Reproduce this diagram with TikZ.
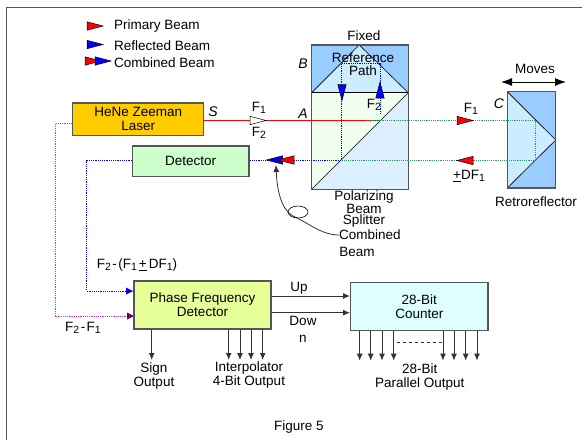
\documentclass[tikz,border=0pt]{standalone}
\usepackage{fontspec}
\setmainfont{Liberation Sans}
\usepackage{xcolor}
\usetikzlibrary{arrows.meta,shapes.geometric}
\definecolor{laserfill}{HTML}{FFCC00}
\definecolor{detfill}{HTML}{CCFFCC}
\definecolor{pfdfill}{HTML}{E6FF99}
\definecolor{countfill}{HTML}{DDFFFF}
\definecolor{prismblue}{HTML}{99CCFF}
\definecolor{prismpale}{HTML}{CCECFF}
\definecolor{cubegreen}{HTML}{F0FFF0}
\definecolor{cubeblue}{HTML}{DDF0FF}
\definecolor{edgegray}{HTML}{555555}
\definecolor{greenbeam}{HTML}{339966}
\definecolor{magentabeam}{HTML}{CC33CC}
\newcommand{\fsub}[2]{#1\raisebox{-2.5pt}{\fontsize{10.5}{11}\selectfont #2}}
\newcommand{\tightminus}{\hspace{1.5pt}-\hspace{1.5pt}}
\newcommand{\beamtip}[3]{%
  \draw[tipline, fill=#1, shift={(#2)}, rotate=#3]
    (-8,-4.2) -- (8,0) -- (-8,4.2) -- cycle;
}
\tikzset{
  >={Latex[length=7pt,width=6pt]},
  box/.style={draw=edgegray, line width=1.2pt, inner sep=0pt, align=center,
    font=\fontsize{13.5}{14}\selectfont},
  tag/.style={inner sep=0pt, align=center, font=\fontsize{13.5}{14}\selectfont},
  tight/.style={inner sep=0pt, align=center, font=\fontsize{13.5}{11}\selectfont},
  letter/.style={inner sep=0pt, font=\fontsize{14}{14}\selectfont\itshape},
  beam/.style={line width=0.8pt, dash pattern=on 1.2pt off 1pt},
  tipline/.style={draw=black, line width=0.5pt},
  glass/.style={draw=edgegray, line width=1.2pt},
  facet/.style={draw=black, line width=0.6pt},
  signal/.style={->, draw=black!80, line width=1pt},
}
\begin{document}
\begin{tikzpicture}[x=1pt, y=-1pt]
  \useasboundingbox (0,0) rectangle (582,440);
  \draw[edgegray, line width=1.6pt] (6.5,440) -- (6.5,7.5) -- (582,7.5);

  % optics
  \fill[cubegreen] (311.7,92.7) rectangle (408.3,189.3);
  \fill[cubeblue] (311.7,189.3) -- (408.3,92.7) -- (408.3,189.3) -- cycle;
  \fill[prismblue] (311.7,45) rectangle (408.3,92.7);
  \fill[prismpale] (311.7,92.7) -- (359.3,45) -- (408.3,92.7) -- cycle;
  \draw[facet] (311.7,92.7) -- (359.3,45) -- (408.3,92.7);
  \draw[facet] (311.7,189.3) -- (408.3,92.7);
  \draw[glass] (311.7,45) rectangle (408.3,189.3);
  \draw[facet] (311.7,92.7) -- (408.3,92.7);
  \fill[prismblue] (507.3,91.7) rectangle (555.7,188);
  \fill[prismpale] (507.3,91.7) -- (555.7,140) -- (507.3,188) -- cycle;
  \draw[facet] (507.3,91.7) -- (555.7,140) -- (507.3,188);
  \draw[glass] (507.3,91.7) rectangle (555.7,188);

  % boxes
  \node[box, fill=laserfill, minimum width=131pt, minimum height=32.7pt]
    (laser) at (138.2,119.4) {HeNe Zeeman\\Laser};
  \node[box, fill=detfill, minimum width=116.7pt, minimum height=30.7pt]
    (detector) at (190.7,161.3) {Detector};
  \node[box, fill=pfdfill, minimum width=137pt, minimum height=48pt]
    (pfd) at (202.5,305) {Phase Frequency\\Detector};
  \node[box, fill=countfill, minimum width=137.3pt, minimum height=48pt]
    (counter) at (419.3,306.7) {28-Bit\\Counter};

  % beams
  \coordinate (split) at (381,120);
  \coordinate (retro top) at (535,120);
  \coordinate (retro low) at (535,160);
  \coordinate (merge) at (341.7,160);
  \coordinate (ref left) at (341.7,63);
  \coordinate (ref right) at (380,63);
  \coordinate (ref end) at (380,115);
  \coordinate (green start) at (367,120);
  \coordinate (mag corner) at (55,123);
  \coordinate (mag low) at (55,316);
  \coordinate (blue corner) at (86.7,160.5);
  \coordinate (blue low) at (86.7,291);
  \draw[red, line width=0.9pt] (laser.east |- split) -- (split);
  \draw[beam, greenbeam] (green start) -- (retro top) -- (retro low) -- (merge);
  \draw[beam, blue] (detector.east |- merge) -- (merge) -- (ref left) -- (ref right) -- (ref end);
  \draw[beam, magentabeam] (laser.west |- mag corner) -- (mag corner) -- (mag low) -- (pfd.west |- mag low);
  \draw[beam, blue] (detector.west |- blue corner) -- (blue corner) -- (blue low) -- (pfd.west |- blue low);
  \fill[blue] (133,291) -- (126,287.5) -- (126,294.5) -- cycle;
  \fill[violet!80!black] (134,316) -- (127,312.5) -- (127,319.5) -- cycle;

  % beam tips
  \beamtip{white}{258,120.5}{0}
  \beamtip{red}{465,120.5}{0}
  \beamtip{red}{465,160.5}{180}
  \beamtip{blue}{342,92.5}{-90}
  \beamtip{blue}{380,90}{90}
  \beamtip{blue}{274.5,160}{180}
  \beamtip{red}{286,160}{180}
  \beamtip{red}{95,26}{0}
  \beamtip{blue}{95,44.5}{0}
  \beamtip{red}{93,61}{0}
  \beamtip{blue}{103,61}{0}

  % legend
  \node[tag, anchor=west] (primary) at (114,26) {Primary Beam};
  \node[tag, anchor=west] (reflected) at (114,46) {Reflected Beam};
  \node[tag, anchor=west] (combined legend) at (114,63) {Combined Beam};

  % labels
  \node[letter] (s label) at (213,112) {S};
  \node[letter] (a label) at (303,114) {A};
  \node[letter] (b label) at (303,64) {B};
  \node[letter] (c label) at (499,104) {C};
  \node[tag] (f1 in) at (259,108) {\fsub{F}{1}};
  \node[tag] (f2 in) at (259,133) {\fsub{F}{2}};
  \node[tag] (f2 ref) at (374,105) {\fsub{F}{2}};
  \node[tag] (f1 out) at (471,109) {\fsub{F}{1}};
  \node[tag] (df label) at (469,176) {\underline{+}D\fsub{F}{1}};
  \node[tag] (fixed) at (364,36) {Fixed};
  \node[tag, font=\fontsize{13.5}{12.5}\selectfont] (ref path) at (363,64) {Reference\\Path};
  \node[tag] (moves) at (535,69) {Moves};
  \coordinate (moves left) at (501,82);
  \coordinate (moves right) at (566,82);
  \draw[{Latex[length=11pt,width=8pt]}-{Latex[length=11pt,width=8pt]}, line width=0.9pt]
    (moves left) -- (moves right);
  \node[tag] (retro) at (536,202) {Retroreflector};
  \node[tight] (splitter) at (364,209) {Polarizing\\Beam\\Splitter};
  \node[tag] (combined) at (370,235) {Combined};
  \node[tag] (combined two) at (357,252) {Beam};

  % pointer to the combined beam
  \coordinate (pointer tip) at (276,165);
  \draw[<-, black!80, line width=0.8pt]
    (pointer tip) .. controls (277,190) and (281,209) .. (293,216)
    .. controls (310,224) and (322,235) .. (combined.west);
  \node[draw=black, line width=0.6pt, ellipse, minimum width=20pt, minimum height=12pt,
    inner sep=0pt] (loop) at (298,212) {};

  % signals
  \node[tag] (mix two) at (137,265) {\fsub{F}{2}\tightminus(\fsub{F}{1}\hspace{2pt}\underline{+}\hspace{2pt}D\fsub{F}{1})};
  \node[tag] (mix one) at (83,328) {\fsub{F}{2}\tightminus\fsub{F}{1}};
  \node[tag] (up) at (299,288) {Up};
  \node[tag, font=\fontsize{13.5}{17}\selectfont] (down) at (303,329.5) {Dow\\n};
  \coordinate (up level) at (0,296);
  \coordinate (down level) at (0,312.7);
  \draw[signal] (pfd.east |- up level) -- (counter.west |- up level);
  \draw[signal] (pfd.east |- down level) -- (counter.west |- down level);

  \coordinate (sign end) at (151.7,360);
  \coordinate (int a) at (228.7,360);
  \coordinate (int b) at (240,360);
  \coordinate (int c) at (251,360);
  \coordinate (int d) at (262.7,360);
  \draw[signal] (sign end |- pfd.south) -- (sign end);
  \draw[signal] (int a |- pfd.south) -- (int a);
  \draw[signal] (int b |- pfd.south) -- (int b);
  \draw[signal] (int c |- pfd.south) -- (int c);
  \draw[signal] (int d |- pfd.south) -- (int d);
  \coordinate (bit a) at (359.7,360.7);
  \coordinate (bit b) at (370.7,360.7);
  \coordinate (bit c) at (382,360.7);
  \coordinate (bit d) at (393.7,360.7);
  \coordinate (bit e) at (443,360.7);
  \coordinate (bit f) at (454,360.7);
  \coordinate (bit g) at (465.7,360.7);
  \coordinate (bit h) at (477,360.7);
  \draw[signal] (bit a |- counter.south) -- (bit a);
  \draw[signal] (bit b |- counter.south) -- (bit b);
  \draw[signal] (bit c |- counter.south) -- (bit c);
  \draw[signal] (bit d |- counter.south) -- (bit d);
  \draw[signal] (bit e |- counter.south) -- (bit e);
  \draw[signal] (bit f |- counter.south) -- (bit f);
  \draw[signal] (bit g |- counter.south) -- (bit g);
  \draw[signal] (bit h |- counter.south) -- (bit h);
  \coordinate (gap left) at (396.7,342);
  \coordinate (gap right) at (442,342);
  \draw[dashed, black!80, line width=0.7pt] (gap left) -- (gap right);

  \node[tag] (sign out) at (154,376) {Sign\\Output};
  \node[tag] (int out) at (249,375.5) {Interpolator\\4-Bit Output};
  \node[tag] (par out) at (419.7,377.5) {28-Bit\\Parallel Output};
  \node[tag] (figure) at (299,427) {Figure 5};
\end{tikzpicture}
\end{document}
